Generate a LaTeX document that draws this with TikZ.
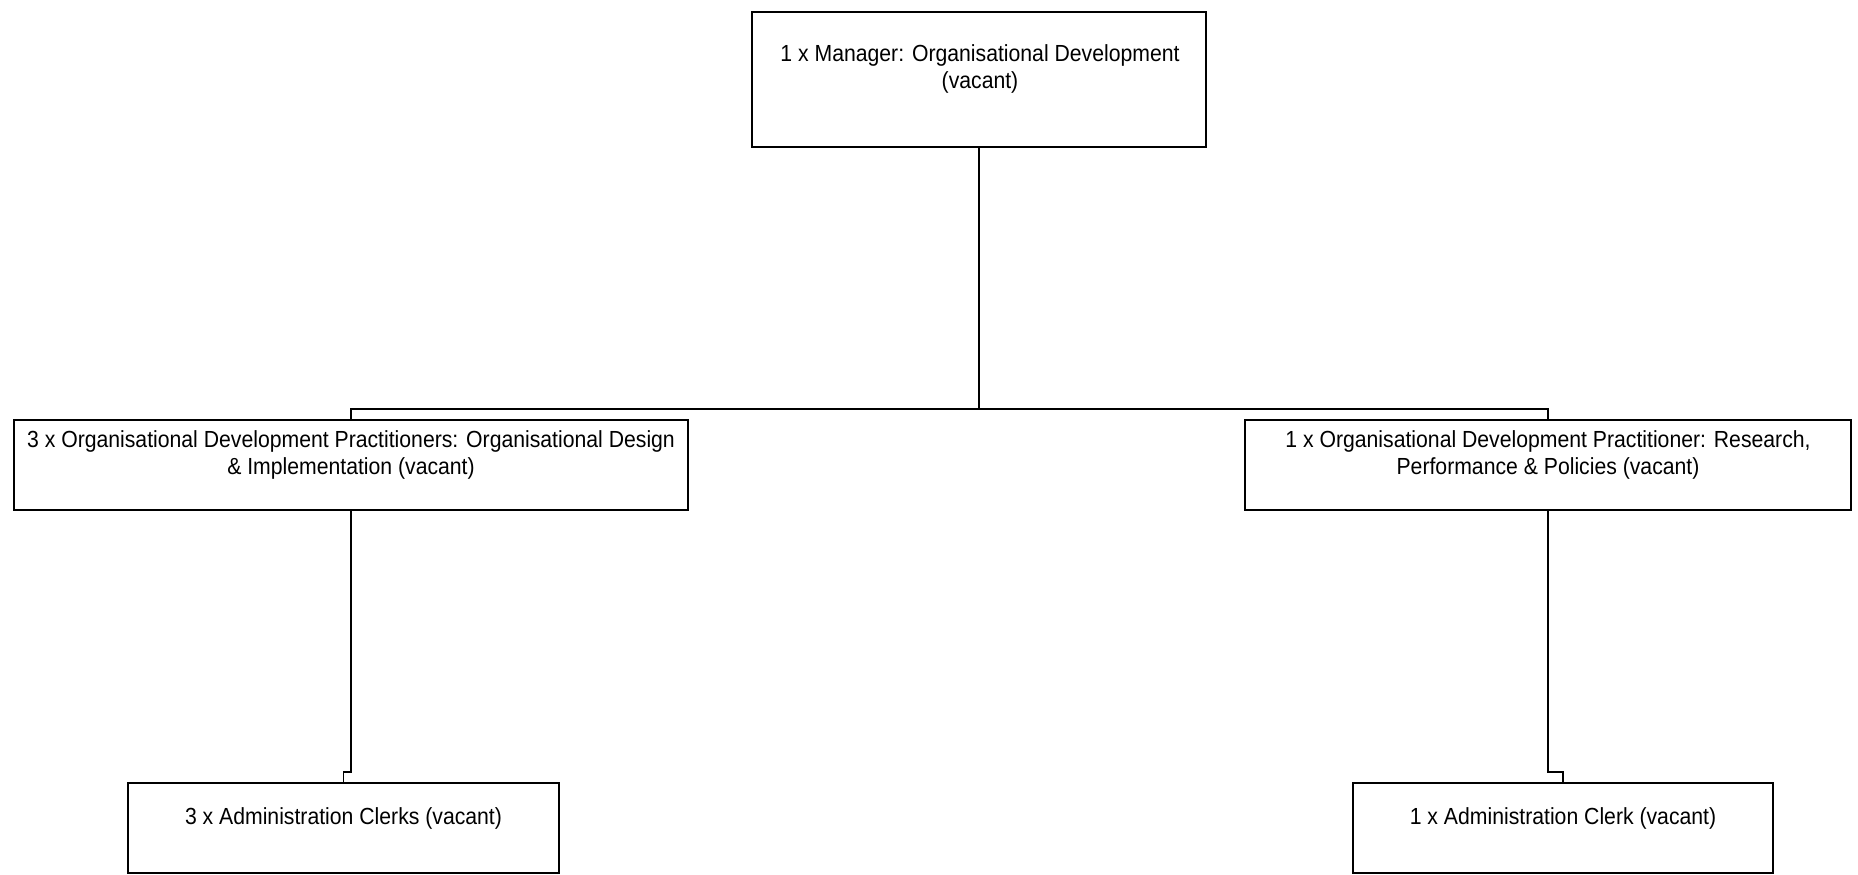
\documentclass[tikz,border=0pt]{standalone}
\usepackage{fontspec}
\setmainfont[FakeStretch=0.91]{Liberation Sans}
\usetikzlibrary{calc}
\begin{document}
\begin{tikzpicture}[x=1pt,y=-1pt,
  post/.style={draw=black, line width=1.6pt, rectangle, inner sep=0pt, fill=white},
  posttext/.style={anchor=north, inner sep=0pt, align=center,
    font=\fontsize{23.3}{27.5}\selectfont},
  link/.style={draw=black, line width=1.6pt}]
  \useasboundingbox (0,0) rectangle (1858,875);

  % boxes
  \node[post, minimum width=454pt, minimum height=135pt] (mgr) at (979,79.5) {};
  \node[post, minimum width=674pt, minimum height=90pt] (odl) at (351,465) {};
  \node[post, minimum width=606pt, minimum height=90pt] (odr) at (1548,465) {};
  \node[post, minimum width=431pt, minimum height=90pt] (cll) at (343.5,828) {};
  \node[post, minimum width=420pt, minimum height=90pt] (clr) at (1563,828) {};

  % connectors
  \coordinate (bus) at (979,409);
  \coordinate (jl) at (343.5,772);
  \coordinate (jr) at (1563,772);
  \draw[link] (mgr.south) -- (bus);
  \draw[link] (bus) -| (odl.north);
  \draw[link] (bus) -| (odr.north);
  \draw[link] (odl.south) |- (jl) -- (cll.north);
  \draw[link] (odr.south) |- (jr) -- (clr.north);

  % post titles
  \node[posttext] (mgr-t) at ($(mgr.north)+(1,33)$)
    {1 x Manager: Organisational Development\\(vacant)};
  \node[posttext] (odl-t) at ($(odl.north)+(0,11)$)
    {3 x Organisational Development Practitioners: Organisational Design\\\& Implementation (vacant)};
  \node[posttext] (odr-t) at ($(odr.north)+(0,11)$)
    {1 x Organisational Development Practitioner: Research,\\Performance \& Policies (vacant)};
  \node[posttext] (cll-t) at ($(cll.north)+(0,25)$)
    {3 x Administration Clerks (vacant)};
  \node[posttext] (clr-t) at ($(clr.north)+(0,25)$)
    {1 x Administration Clerk (vacant)};
\end{tikzpicture}
\end{document}
